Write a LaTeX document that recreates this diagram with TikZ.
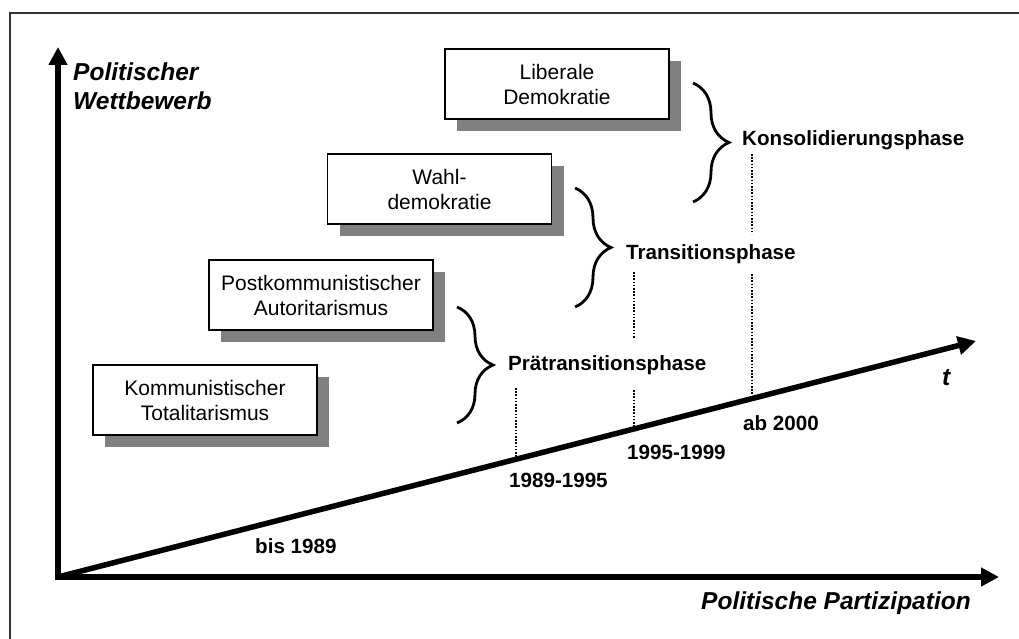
\documentclass[tikz,border=0pt]{standalone}
\usepackage{fontspec}
\setmainfont{Liberation Sans}
\usetikzlibrary{arrows.meta,decorations.pathreplacing,shadows}
\definecolor{shadowgray}{RGB}{128,128,128}
\definecolor{framegray}{RGB}{51,51,51}

\begin{document}
\begin{tikzpicture}[x=1pt,y=-1pt,
  stagebox/.style={draw=black, line width=1.3pt, fill=white,
    minimum width=224pt, minimum height=70pt, inner sep=0pt, align=center,
    font=\fontsize{21}{25}\selectfont,
    drop shadow={shadow xshift=12pt, shadow yshift=-12pt, fill=shadowgray, opacity=1, draw=none}},
  axisline/.style={line width=5.5pt, -{Triangle[length=18pt,width=18pt]}},
  phasebrace/.style={decorate, decoration={brace, amplitude=36pt, aspect=0.5}, line width=2.8pt},
  boldlabel/.style={font=\fontsize{20.6}{24}\selectfont\bfseries, anchor=base west, inner sep=0pt},
  axislabel/.style={font=\fontsize{24.5}{29}\selectfont\bfseries\itshape, anchor=base west, inner sep=0pt, align=left},
  marker/.style={line width=1.6pt, dash pattern=on 1.6pt off 1.6pt}
]
\useasboundingbox (0,0) rectangle (1019,639);

% outer frame
\draw[framegray, line width=2pt] (10,640) -- (10,13) -- (1020,13);

% origin, axis ends and time arrow end
\coordinate (O) at (58,577);
\coordinate (Ytop) at (58,47);
\coordinate (Xend) at (999,577);
\coordinate (Tend) at (976,341);

% dotted period markers (drawn before the time arrow)
\coordinate (m1top) at (516,388);  \coordinate (m1bot) at (516,459);
\coordinate (m2a)   at (634,272);  \coordinate (m2b)   at (634,339);
\coordinate (m2top) at (634,390);  \coordinate (m2bot) at (634,428);
\coordinate (m3a)   at (752,154);  \coordinate (m3b)   at (752,234);
\coordinate (m3top) at (752,274);  \coordinate (m3bot) at (752,398);
\draw[marker] (m1top) -- (m1bot);
\draw[marker] (m2a) -- (m2b);
\draw[marker] (m2top) -- (m2bot);
\draw[marker] (m3a) -- (m3b);
\draw[marker] (m3top) -- (m3bot);

% axes
\draw[axisline] ([yshift=-2.75pt]O) -- (Ytop);
\draw[axisline] ([xshift=-2.75pt]O) -- (Xend);
\draw[axisline] (O) -- (Tend);

% axis labels (base of a two-line node is its last line)
\node[axislabel] (ylab) at (73,110) {Politischer\\Wettbewerb};
\node[axislabel] (xlab) at (701,609) {Politische Partizipation};
\node[axislabel] (tlab) at (942,385) {t};

% regime stages
\node[stagebox] (lib)  at (557,84)    {Liberale\\Demokratie};
\node[stagebox] (wahl) at (439.5,189) {Wahl-\\demokratie};
\node[stagebox] (post) at (321,295)   {Postkommunistischer\\Autoritarismus};
\node[stagebox] (komm) at (205,400)   {Kommunistischer\\Totalitarismus};

% phase braces
\coordinate (b3s) at (693,83);  \coordinate (b3e) at (693,202);
\coordinate (b2s) at (575,188); \coordinate (b2e) at (575,307);
\coordinate (b1s) at (457,307); \coordinate (b1e) at (457,423);
\draw[phasebrace] (b3s) -- (b3e);
\draw[phasebrace] (b2s) -- (b2e);
\draw[phasebrace] (b1s) -- (b1e);

% phase names
\node[boldlabel] (kons)  at (742,146) {Konsolidierungsphase};
\node[boldlabel] (trans) at (626,259) {Transitionsphase};
\node[boldlabel] (praet) at (508,370) {Prätransitionsphase};

% periods along the time arrow
\node[boldlabel] (p0) at (255,553) {bis 1989};
\node[boldlabel] (p1) at (509,487) {1989-1995};
\node[boldlabel] (p2) at (627,459) {1995-1999};
\node[boldlabel] (p3) at (743,430) {ab 2000};
\end{tikzpicture}
\end{document}
